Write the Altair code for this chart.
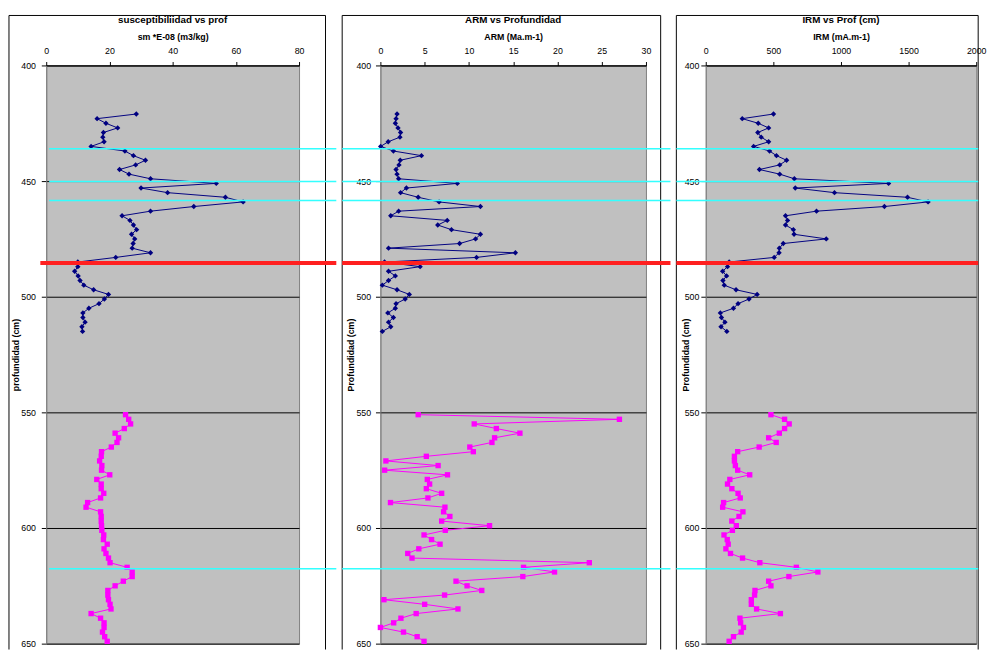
import altair as alt
import pandas as pd

# ---------------- data ----------------
depth_top = [421, 423, 425, 427, 429, 431, 433, 435, 437, 439, 441, 443, 445, 447, 449,
             451, 453, 455, 457, 459, 461, 463, 465, 467, 469, 471, 473, 475, 477, 479,
             481, 483, 485, 487, 489, 491, 493, 495, 497, 499, 501, 503, 505, 507, 509,
             511, 513, 515]
depth_bot = [551, 553, 555, 557, 559, 561, 563, 565, 567, 569, 571, 573, 575, 577, 579,
             581, 583, 585, 587, 589, 591, 593, 595, 597, 599, 601, 603, 605, 607, 609,
             611, 613, 615, 617, 619, 621, 623, 625, 627, 629, 631, 633, 635, 637, 639,
             641, 643, 645, 647, 649]

sus_top = [28.5, 16.1, 18.9, 22.6, 18.1, 17.9, 18.3, 14.2, 24.9, 27.6, 31.4, 28.3, 23.2, 26.2, 33.0,
           53.8, 30.0, 38.4, 56.7, 62.3, 46.7, 33.0, 24.0, 26.5, 27.6, 28.6, 27.0, 28.0, 27.5, 27.2,
           33.0, 22.0, 10.0, 10.0, 9.0, 10.1, 10.7, 11.9, 15.0, 19.7, 18.4, 16.7, 13.5, 11.6, 11.6,
           12.3, 11.3, 11.5]
sus_bot = [25.1, 26.1, 26.7, 24.7, 21.8, 22.9, 22.4, 20.6, 17.5, 17.4, 16.9, 17.6, 17.5, 20.1, 16.0,
           17.4, 17.4, 18.2, 17.2, 13.1, 12.6, 17.2, 17.4, 17.4, 17.5, 17.6, 18.2, 18.1, 19.3, 18.3,
           18.9, 19.7, 20.2, 25.6, 27.2, 27.2, 24.4, 21.8, 19.5, 19.5, 19.7, 20.2, 20.5, 14.2, 17.2,
           18.3, 18.3, 17.8, 18.5, 19.3]

arm_top = [1.88, 1.77, 1.69, 1.99, 2.28, 2.21, 0.88, 0.03, 1.47, 4.64, 2.24, 2.10, 1.77, 1.88, 2.06,
           8.69, 2.94, 2.28, 4.27, 6.63, 11.3, 2.06, 1.17, 7.55, 6.48, 8.03, 11.3, 10.75, 8.95, 0.92,
           15.25, 10.86, 0.47, 4.49, 0.92, 1.69, 0.92, 0.22, 1.88, 3.27, 2.80, 1.77, 1.69, 0.84, 1.47,
           0.92, 1.17, 0.22]
arm_bot = [4.27, 27.0, 10.6, 13.1, 15.76, 12.9, 12.6, 10.1, 10.5, 5.19, 0.62, 6.52, 0.48, 7.58, 5.30,
           5.56, 5.19, 6.92, 5.37, 1.14, 7.29, 7.14, 7.85, 6.92, 12.33, 7.33, 4.93, 5.78, 6.74, 4.34,
           3.09, 3.57, 23.6, 16.17, 19.67, 16.09, 8.54, 9.79, 11.45, 7.25, 0.40, 5.0, 8.76, 4.04, 2.32,
           1.50, 0.0, 2.61, 4.15, 4.93]

irm_top = [501, 270, 388, 465, 385, 410, 465, 354, 472, 523, 598, 547, 397, 547, 655,
           1352, 662, 952, 1492, 1644, 1321, 819, 590, 605, 590, 648, 653, 891, 573, 544,
           542, 506, 173, 161, 125, 154, 127, 137, 224, 380, 320, 239, 205, 108, 116,
           142, 113, 156]
irm_bot = [482, 583, 617, 583, 544, 465, 521, 395, 236, 212, 212, 219, 236, 325, 178,
           161, 193, 239, 255, 132, 125, 275, 246, 193, 226, 197, 135, 159, 166, 149,
           183, 272, 400, 670, 829, 615, 465, 482, 364, 361, 337, 337, 376, 552, 253,
           258, 279, 262, 205, 173]

cyan_depths = [436.0, 450.2, 458.4, 617.6]
red_depths = [485.4]

titles = ["susceptibiliidad vs prof", "ARM vs Profundidad", "IRM vs Prof (cm)"]
x_titles = ["sm *E-08 (m3/kg)", "ARM (Ma.m-1)", "IRM (mA.m-1)"]
y_titles = ["profundidad (cm)", "Profundidad (cm)", "Profundidad (cm)"]
x_ticks = [[0, 20, 40, 60, 80], [0, 5, 10, 15, 20, 25, 30], [0, 500, 1000, 1500, 2000]]
y_ticks = [400, 450, 500, 550, 600, 650]

FONT = "Liberation Sans"
H = 590


def make_df(top, bot):
    rows = []
    for d, v in zip(depth_top, top):
        rows.append({"depth": d, "value": v, "series": "top"})
    for d, v in zip(depth_bot, bot):
        rows.append({"depth": d, "value": v, "series": "bot"})
    return pd.DataFrame(rows)


def panel(df, i, width, frame_l, frame_r, line_r, red_l, cyan_l, label_pad, title_x):
    yscale = alt.Scale(domain=[400, 650], reverse=True, nice=False, zero=False)
    xscale = alt.Scale(domain=[x_ticks[i][0], x_ticks[i][-1]], nice=False, zero=False)
    color = alt.Color("series:N", scale=alt.Scale(domain=["top", "bot"], range=["#000080", "#FF00FF"]), legend=None)
    shape = alt.Shape("series:N", scale=alt.Scale(domain=["top", "bot"], range=["diamond", "square"]), legend=None)

    xaxis = alt.Axis(orient="top", values=x_ticks[i], title=x_titles[i], grid=False, format="d",
                     labelFlush=False, tickSize=4, labelPadding=6, titlePadding=5,
                     domainColor="#000000", tickColor="#000000", labelFontSize=9,
                     titleFontSize=9, titleFontWeight="bold", labelColor="#000000",
                     titleColor="#000000", labelFont=FONT, titleFont=FONT)
    yaxis = alt.Axis(values=y_ticks, title=y_titles[i], grid=True, gridColor="#000000",
                     gridWidth=1, labelFlush=False, tickSize=5, labelPadding=label_pad,
                     domainColor="#808080", tickColor="#000000", labelFontSize=9,
                     titleFontSize=9, titleFontWeight="bold", labelColor="#000000",
                     titleColor="#000000", titleX=title_x, titleY=H / 2, titleAngle=-90,
                     titleAlign="center", titleBaseline="middle", labelFont=FONT,
                     titleFont=FONT)

    base = alt.Chart(df)
    lines = base.mark_line(strokeWidth=1).encode(
        x=alt.X("value:Q", scale=xscale, axis=xaxis),
        y=alt.Y("depth:Q", scale=yscale, axis=yaxis),
        color=color,
        detail="series:N",
        order=alt.Order("depth:Q"),
    )
    pts = base.mark_point(filled=True, size=30, opacity=1).encode(
        x="value:Q", y="depth:Q", color=color, shape=shape
    )

    one = alt.InlineData(values=[{"k": 1}])
    top_rule = alt.Chart(one).mark_rule(color="#000000", strokeWidth=1).encode(
        x=alt.value(frame_l), x2=alt.value(frame_r), y=alt.value(-51))
    left_rule = alt.Chart(one).mark_rule(color="#000000", strokeWidth=1).encode(
        x=alt.value(frame_l), y=alt.value(-51), y2=alt.value(H + 6))
    right_rule = alt.Chart(one).mark_rule(color="#000000", strokeWidth=1).encode(
        x=alt.value(frame_r), y=alt.value(-51), y2=alt.value(H + 6))

    cyan = alt.Chart(pd.DataFrame({"depth": cyan_depths})).mark_rule(
        color="#33FFFF", strokeWidth=1.5).encode(
        y=alt.Y("depth:Q"), x=alt.value(cyan_l), x2=alt.value(line_r))
    red = alt.Chart(pd.DataFrame({"depth": red_depths})).mark_rule(
        color="#FF2020", strokeWidth=4).encode(
        y=alt.Y("depth:Q"), x=alt.value(red_l), x2=alt.value(line_r))

    ttl = alt.Chart(one).mark_text(fontWeight="bold", fontSize=10, font=FONT,
                                   color="#000000").encode(
        x=alt.value(width / 2), y=alt.value(-46), text=alt.value(titles[i]))

    return alt.layer(top_rule, left_rule, right_rule, lines, pts, cyan, red, ttl).properties(
        width=width, height=H,
        view=alt.ViewBackground(fill="#C0C0C0", stroke="#808080", strokeWidth=1))


p1 = panel(make_df(sus_top, sus_bot), 0, 258, -38, 285, 296, -6, 3, 6, -31)
p2 = panel(make_df(arm_top, arm_bot), 1, 271, -39, 286, 296, -39, -39, 5, -30)
p3 = panel(make_df(irm_top, irm_bot), 2, 276, -30, 278, 278, -30, -30, 2, -21)

chart = alt.hconcat(p1, p2, p3, spacing=0, bounds="full").properties(
    padding={"left": 0, "top": 0, "right": 0, "bottom": 0}, background="#FFFFFF"
).configure(font=FONT).configure_view(fill="#C0C0C0", stroke="#808080", strokeWidth=1)

chart.save("out.html", embed_options={"renderer": "svg", "actions": False})
